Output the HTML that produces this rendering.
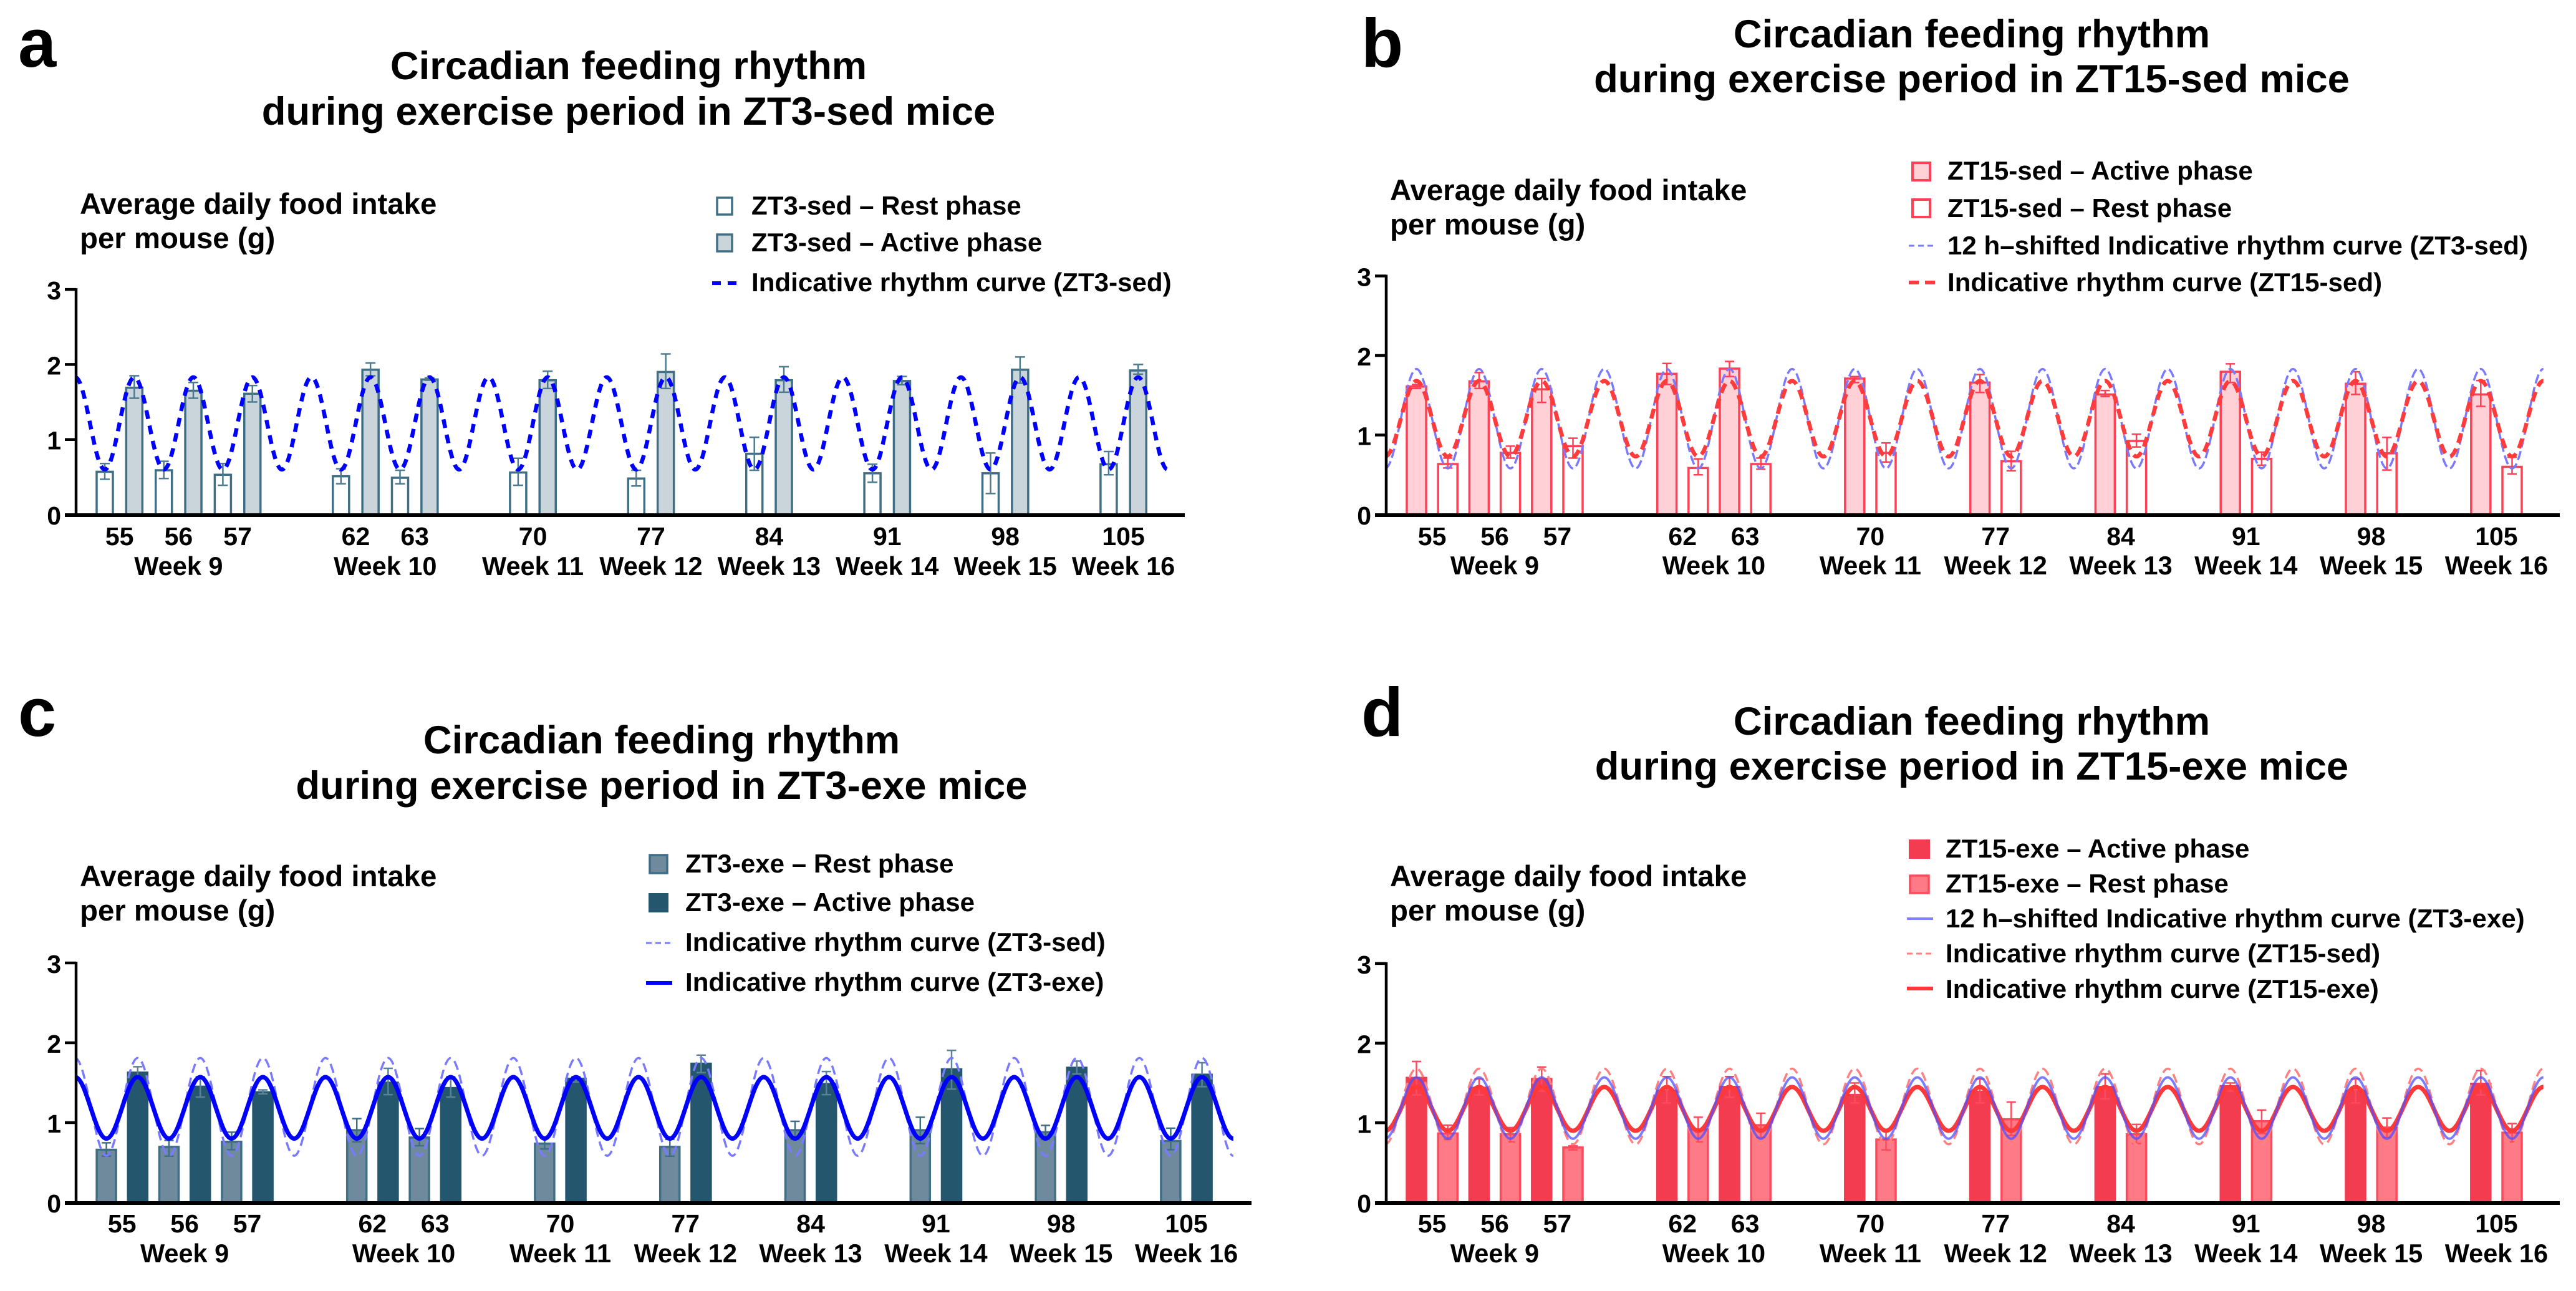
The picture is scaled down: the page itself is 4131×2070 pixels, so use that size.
<!DOCTYPE html>
<html lang="en">
<head>
<meta charset="utf-8">
<title>Circadian feeding rhythm</title>
<style>
html,body{margin:0;padding:0;background:#fff;width:4131px;height:2070px;overflow:hidden}
svg{display:block}
text{font-family:"Liberation Sans",Arial,sans-serif;font-weight:bold;fill:#000}
.letter{font-size:110px}
.title{font-size:63.4px;text-anchor:middle}
.ylab{font-size:47.4px}
.leg{font-size:42.1px}
</style>
</head>
<body>
<svg id="figure" xmlns="http://www.w3.org/2000/svg" width="4131" height="2070" viewBox="0 0 4131 2070">
<rect x="0" y="0" width="4131" height="2070" fill="#fff"/>

<g id="panel-a">
  <text class="letter" x="29" y="107">a</text>
  <g>
    <text class="title" x="1008" y="127">Circadian feeding rhythm</text>
    <text class="title" x="1008" y="200">during exercise period in ZT3-sed mice</text>
  </g>
  <g>
    <text class="ylab" x="128" y="343">Average daily food intake</text>
    <text class="ylab" x="128" y="398">per mouse (g)</text>
  </g>
  <g>
    <rect x="1150" y="317" width="24" height="27" fill="#fff" stroke="#3f6e85" stroke-width="3.5"/>
    <text class="leg" x="1205" y="344">ZT3-sed – Rest phase</text>
    <rect x="1150" y="376" width="24" height="27" fill="#c9d5db" stroke="#3f6e85" stroke-width="3.5"/>
    <text class="leg" x="1205" y="403">ZT3-sed – Active phase</text>
    <line x1="1142" x2="1182" y1="454" y2="454" stroke="#0000ff" stroke-width="6" stroke-dasharray="14 11"/>
    <text class="leg" x="1205" y="467">Indicative rhythm curve (ZT3-sed)</text>
  </g>
</g>

<g id="panel-b">
  <text class="letter" x="2183" y="107">b</text>
  <g>
    <text class="title" x="3162" y="76">Circadian feeding rhythm</text>
    <text class="title" x="3162" y="148">during exercise period in ZT15-sed mice</text>
  </g>
  <g>
    <text class="ylab" x="2229" y="321">Average daily food intake</text>
    <text class="ylab" x="2229" y="376">per mouse (g)</text>
  </g>
  <g>
    <rect x="3067" y="261" width="28" height="28" fill="#ffd0d5" stroke="#ff4055" stroke-width="4"/>
    <text class="leg" x="3123" y="288">ZT15-sed – Active phase</text>
    <rect x="3067" y="320" width="28" height="28" fill="#fff" stroke="#ff4055" stroke-width="4"/>
    <text class="leg" x="3123" y="348">ZT15-sed – Rest phase</text>
    <line x1="3061" x2="3104" y1="394" y2="394" stroke="#7a7aff" stroke-width="3" stroke-dasharray="9 6"/>
    <text class="leg" x="3123" y="408">12 h–shifted Indicative rhythm curve (ZT3-sed)</text>
    <line x1="3061" x2="3104" y1="453" y2="453" stroke="#ff3b3b" stroke-width="6" stroke-dasharray="16 10"/>
    <text class="leg" x="3123" y="467">Indicative rhythm curve (ZT15-sed)</text>
  </g>
</g>

<g id="panel-c">
  <text class="letter" x="29" y="1180">c</text>
  <g>
    <text class="title" x="1061" y="1208">Circadian feeding rhythm</text>
    <text class="title" x="1061" y="1281">during exercise period in ZT3-exe mice</text>
  </g>
  <g>
    <text class="ylab" x="128" y="1421">Average daily food intake</text>
    <text class="ylab" x="128" y="1476">per mouse (g)</text>
  </g>
  <g>
    <rect x="1042" y="1371" width="28" height="29" fill="#6e8a9c" stroke="#3f6e85" stroke-width="3.5"/>
    <text class="leg" x="1099" y="1399">ZT3-exe – Rest phase</text>
    <rect x="1040" y="1432" width="32" height="31" fill="#24566e"/>
    <text class="leg" x="1099" y="1461">ZT3-exe – Active phase</text>
    <line x1="1036" x2="1078" y1="1512" y2="1512" stroke="#7a7aff" stroke-width="3" stroke-dasharray="9 6"/>
    <text class="leg" x="1099" y="1525">Indicative rhythm curve (ZT3-sed)</text>
    <line x1="1036" x2="1078" y1="1576" y2="1576" stroke="#0000ff" stroke-width="6"/>
    <text class="leg" x="1099" y="1589">Indicative rhythm curve (ZT3-exe)</text>
  </g>
</g>

<g id="panel-d">
  <text class="letter" x="2183" y="1180">d</text>
  <g>
    <text class="title" x="3162" y="1178">Circadian feeding rhythm</text>
    <text class="title" x="3162" y="1250">during exercise period in ZT15-exe mice</text>
  </g>
  <g>
    <text class="ylab" x="2229" y="1421">Average daily food intake</text>
    <text class="ylab" x="2229" y="1476">per mouse (g)</text>
  </g>
  <g>
    <rect x="3061" y="1346" width="34" height="31" fill="#f43c50"/>
    <text class="leg" x="3120" y="1375">ZT15-exe – Active phase</text>
    <rect x="3063" y="1404" width="30" height="28" fill="#ff7a87" stroke="#ff4a5c" stroke-width="3.5"/>
    <text class="leg" x="3120" y="1431">ZT15-exe – Rest phase</text>
    <line x1="3058" x2="3100" y1="1473" y2="1473" stroke="#8080ff" stroke-width="4"/>
    <text class="leg" x="3120" y="1487">12 h–shifted Indicative rhythm curve (ZT3-exe)</text>
    <line x1="3058" x2="3100" y1="1529" y2="1529" stroke="#ff8080" stroke-width="3" stroke-dasharray="9 6"/>
    <text class="leg" x="3120" y="1543">Indicative rhythm curve (ZT15-sed)</text>
    <line x1="3058" x2="3100" y1="1585" y2="1585" stroke="#ff3838" stroke-width="6"/>
    <text class="leg" x="3120" y="1600">Indicative rhythm curve (ZT15-exe)</text>
  </g>
</g>
</svg>

<script>
// ---- shared categories and tick labels ----
const days = [55, 56, 57, 62, 63, 70, 77, 84, 91, 98, 105];
const weekLabels = ['Week 9', 'Week 10', 'Week 11', 'Week 12', 'Week 13', 'Week 14', 'Week 15', 'Week 16'];
const weekDays = [[55, 56, 57], [62, 63], [70], [77], [84], [91], [98], [105]];
const yTicks = [0, 1, 2, 3];

// ---- panel a (ZT3-sed) ----
const aRestMean = [0.57, 0.59, 0.53, 0.51, 0.49, 0.56, 0.48, 0.81, 0.55, 0.55, 0.67];
const aRestHigh = [0.68, 0.71, 0.68, 0.61, 0.59, 0.75, 0.59, 1.03, 0.67, 0.82, 0.84];
const aRestLow = [0.47, 0.48, 0.39, 0.41, 0.41, 0.39, 0.38, 0.59, 0.43, 0.28, 0.53];
const aActiveMean = [1.69, 1.65, 1.61, 1.93, 1.80, 1.79, 1.90, 1.79, 1.78, 1.93, 1.92];
const aActiveHigh = [1.85, 1.76, 1.72, 2.02, 1.82, 1.91, 2.14, 1.97, 1.84, 2.10, 2.00];
const aActiveLow = [1.55, 1.55, 1.50, 1.85, 1.79, 1.68, 1.68, 1.63, 1.73, 1.75, 1.87];
const aCurveSed = [1.83, 0.6, 1.83, 0.6, 1.83, 0.6, 1.83, 0.6, 1.83, 0.6, 1.83, 0.6, 1.83, 0.6, 1.83, 0.6, 1.83, 0.6, 1.83, 0.6, 1.83, 0.6, 1.83, 0.6, 1.83, 0.6, 1.83, 0.6, 1.83, 0.6, 1.83, 0.6, 1.83, 0.6, 1.83, 0.6, 1.83, 0.6];

// ---- panel b (ZT15-sed) ----
const bRestMean = [0.635, 0.775, 0.86, 0.585, 0.635, 0.775, 0.67, 0.925, 0.70, 0.77, 0.60];
const bRestHigh = [0.71, 0.86, 0.96, 0.70, 0.71, 0.90, 0.795, 1.01, 0.785, 0.97, 0.72];
const bRestLow = [0.585, 0.71, 0.71, 0.50, 0.57, 0.66, 0.55, 0.85, 0.62, 0.56, 0.51];
const bActiveMean = [1.61, 1.675, 1.575, 1.77, 1.835, 1.71, 1.66, 1.51, 1.795, 1.645, 1.51];
const bActiveHigh = [1.635, 1.785, 1.71, 1.90, 1.925, 1.735, 1.76, 1.56, 1.895, 1.795, 1.685];
const bActiveLow = [1.585, 1.585, 1.41, 1.635, 1.735, 1.66, 1.535, 1.485, 1.66, 1.51, 1.36];
const bCurveShifted = [0.58, 1.83, 0.58, 1.83, 0.58, 1.83, 0.58, 1.83, 0.58, 1.83, 0.58, 1.83, 0.58, 1.83, 0.58, 1.83, 0.58, 1.83, 0.58, 1.83, 0.58, 1.83, 0.58, 1.83, 0.58, 1.83, 0.58, 1.83, 0.58, 1.83, 0.58, 1.83, 0.58, 1.83, 0.58, 1.83, 0.58, 1.83];
const bCurveSed = [0.73, 1.68, 0.73, 1.68, 0.73, 1.68, 0.73, 1.68, 0.73, 1.68, 0.73, 1.68, 0.73, 1.68, 0.73, 1.68, 0.73, 1.68, 0.73, 1.68, 0.73, 1.68, 0.73, 1.68, 0.73, 1.68, 0.73, 1.68, 0.73, 1.68, 0.73, 1.68, 0.73, 1.68, 0.73, 1.68, 0.73, 1.68];

// ---- panel c (ZT3-exe) ----
const cRestMean = [0.66, 0.696, 0.76, 0.905, 0.813, 0.737, 0.696, 0.905, 0.905, 0.88, 0.77];
const cRestHigh = [0.747, 0.777, 0.88, 1.05, 0.925, 0.81, 0.79, 1.016, 1.067, 0.965, 0.93];
const cRestLow = [0.58, 0.58, 0.66, 0.76, 0.71, 0.67, 0.58, 0.79, 0.737, 0.79, 0.66];
const cActiveMean = [1.626, 1.45, 1.38, 1.50, 1.433, 1.55, 1.738, 1.484, 1.667, 1.687, 1.60];
const cActiveHigh = [1.70, 1.575, 1.41, 1.68, 1.575, 1.575, 1.845, 1.64, 1.905, 1.77, 1.75];
const cActiveLow = [1.55, 1.32, 1.36, 1.35, 1.32, 1.51, 1.626, 1.35, 1.42, 1.61, 1.45];
const cCurveSed = [1.81, 0.585, 1.81, 0.585, 1.81, 0.585, 1.81, 0.585, 1.81, 0.585, 1.81, 0.585, 1.81, 0.585, 1.81, 0.585, 1.81, 0.585, 1.81, 0.585, 1.81, 0.585, 1.81, 0.585, 1.81, 0.585, 1.81, 0.585, 1.81, 0.585, 1.81, 0.585, 1.81, 0.585, 1.81, 0.585, 1.81, 0.585];
const cCurveExe = [1.57, 0.8, 1.57, 0.8, 1.57, 0.8, 1.57, 0.8, 1.57, 0.8, 1.57, 0.8, 1.57, 0.8, 1.57, 0.8, 1.57, 0.8, 1.57, 0.8, 1.57, 0.8, 1.57, 0.8, 1.57, 0.8, 1.57, 0.8, 1.57, 0.8, 1.57, 0.8, 1.57, 0.8, 1.57, 0.8, 1.57, 0.8];

// ---- panel d (ZT15-exe) ----
const dRestMean = [0.866, 0.856, 0.69, 0.917, 0.97, 0.79, 1.044, 0.856, 1.02, 0.94, 0.876];
const dRestHigh = [0.97, 0.94, 0.71, 1.07, 1.12, 0.917, 1.26, 0.98, 1.16, 1.06, 0.99];
const dRestLow = [0.79, 0.76, 0.66, 0.76, 0.815, 0.66, 0.84, 0.74, 0.866, 0.815, 0.76];
const dActiveMean = [1.564, 1.44, 1.55, 1.40, 1.45, 1.35, 1.39, 1.45, 1.46, 1.40, 1.49];
const dActiveHigh = [1.77, 1.55, 1.70, 1.58, 1.58, 1.50, 1.55, 1.615, 1.50, 1.55, 1.655];
const dActiveLow = [1.35, 1.35, 1.40, 1.25, 1.32, 1.25, 1.25, 1.30, 1.40, 1.25, 1.35];
const dCurveShifted = [0.8, 1.57, 0.8, 1.57, 0.8, 1.57, 0.8, 1.57, 0.8, 1.57, 0.8, 1.57, 0.8, 1.57, 0.8, 1.57, 0.8, 1.57, 0.8, 1.57, 0.8, 1.57, 0.8, 1.57, 0.8, 1.57, 0.8, 1.57, 0.8, 1.57, 0.8, 1.57, 0.8, 1.57, 0.8, 1.57, 0.8, 1.57];
const dCurveSed = [0.73, 1.68, 0.73, 1.68, 0.73, 1.68, 0.73, 1.68, 0.73, 1.68, 0.73, 1.68, 0.73, 1.68, 0.73, 1.68, 0.73, 1.68, 0.73, 1.68, 0.73, 1.68, 0.73, 1.68, 0.73, 1.68, 0.73, 1.68, 0.73, 1.68, 0.73, 1.68, 0.73, 1.68, 0.73, 1.68, 0.73, 1.68];
const dCurveExe = [0.9, 1.45, 0.9, 1.45, 0.9, 1.45, 0.9, 1.45, 0.9, 1.45, 0.9, 1.45, 0.9, 1.45, 0.9, 1.45, 0.9, 1.45, 0.9, 1.45, 0.9, 1.45, 0.9, 1.45, 0.9, 1.45, 0.9, 1.45, 0.9, 1.45, 0.9, 1.45, 0.9, 1.45, 0.9, 1.45, 0.9, 1.45];

const SVG_NS = 'http://www.w3.org/2000/svg';

function mk(tag, attrs, parent, content) {
  const el = document.createElementNS(SVG_NS, tag);
  Object.keys(attrs).forEach(function (k) { el.setAttribute(k, attrs[k]); });
  if (content !== undefined) el.textContent = content;
  parent.appendChild(el);
  return el;
}

// category axis: consecutive days are one period apart, a jump leaves one empty period
function slotOfDay(day) {
  let slot = 0;
  for (let i = 1; i < days.length && days[i - 1] < day; i++) {
    slot += days[i] - days[i - 1] === 1 ? 1 : 2;
  }
  return slot;
}
function xAxis(panel, halfStep) { return panel.x0 + halfStep * panel.step; }
function yAxis(panel, value) { return panel.y0 - value * panel.unit; }

function drawBar(g, panel, halfStep, mean, high, low, style, kind, day) {
  const cx = xAxis(panel, halfStep);
  const top = yAxis(panel, mean);
  const bar = mk('rect', {
    x: cx - panel.barWidth / 2, y: top, width: panel.barWidth, height: panel.y0 - top,
    fill: style.fill, stroke: style.stroke, 'stroke-width': style.strokeWidth
  }, g);
  
  
  const errGroup = mk('g', { stroke: style.error, 'stroke-width': panel.errWidth, fill: 'none' }, g);
  
  
  mk('line', { x1: cx, x2: cx, y1: yAxis(panel, high), y2: yAxis(panel, low) }, errGroup);
  mk('line', { x1: cx - panel.cap, x2: cx + panel.cap, y1: yAxis(panel, high), y2: yAxis(panel, high) }, errGroup);
  mk('line', { x1: cx - panel.cap, x2: cx + panel.cap, y1: yAxis(panel, low), y2: yAxis(panel, low) }, errGroup);
}

function curvePath(panel, values) {
  // the curve passes through its read peaks and troughs, one half period apart
  let d = 'M' + xAxis(panel, -1) + ' ' + yAxis(panel, values[0]);
  for (let i = 1; i < values.length; i++) {
    const xa = xAxis(panel, i - 2), xb = xAxis(panel, i - 1);
    const ya = yAxis(panel, values[i - 1]), yb = yAxis(panel, values[i]);
    const k = (xb - xa) * 0.3642;
    d += 'C' + (xa + k) + ' ' + ya + ' ' + (xb - k) + ' ' + yb + ' ' + xb + ' ' + yb;
  }
  return d;
}

function drawPanel(panel) {
  const root = document.getElementById(panel.id);
  const plot = mk('g', {}, root);
  
  

  days.forEach(function (day, i) {
    const slot = slotOfDay(day);
    drawBar(plot, panel, 2 * slot + panel.restOffset, panel.restMean[i], panel.restHigh[i], panel.restLow[i], panel.restStyle, 'rest', day);
    drawBar(plot, panel, 2 * slot + panel.activeOffset, panel.activeMean[i], panel.activeHigh[i], panel.activeLow[i], panel.activeStyle, 'active', day);
  });

  panel.curves.forEach(function (curve) {
    const attrs = {
      d: curvePath(panel, curve.values), fill: 'none', stroke: curve.color,
      'stroke-width': curve.width, 'stroke-opacity': curve.opacity || 1
    };
    if (curve.dash) attrs['stroke-dasharray'] = curve.dash;
    const line = mk('path', attrs, plot);
    
    
  });

  const axisY = mk('g', { stroke: '#000', 'stroke-width': 4.5 }, root);
  
  
  mk('line', { x1: panel.axisX, x2: panel.axisX, y1: yAxis(panel, 3) - 2, y2: panel.y0 }, axisY);
  yTicks.forEach(function (tick) {
    const y = yAxis(panel, tick);
    if (tick > 0) {
      const tickMark = mk('line', { x1: panel.axisX - 18, x2: panel.axisX, y1: y, y2: y }, axisY);
      
      
    }
    const label = mk('text', { x: panel.axisX - 24, y: y + 16, 'text-anchor': 'end', 'font-size': 41, stroke: 'none' }, root, String(tick));
    
    
  });

  const axisX = mk('line', {
    x1: panel.axisX - 18, x2: panel.axisEnd, y1: panel.y0 + 1, y2: panel.y0 + 1, stroke: '#000', 'stroke-width': 6
  }, root);
  
  

  days.forEach(function (day) {
    const label = mk('text', {
      x: xAxis(panel, 2 * slotOfDay(day) + 0.5), y: panel.dayBase, 'text-anchor': 'middle', 'font-size': 41
    }, root, String(day));
    
    
  });
  weekLabels.forEach(function (week, i) {
    const group = weekDays[i];
    const mid = (slotOfDay(group[0]) + slotOfDay(group[group.length - 1])) / 2;
    const label = mk('text', {
      x: xAxis(panel, 2 * mid + 0.5), y: panel.weekBase, 'text-anchor': 'middle', 'font-size': 41.5
    }, root, week);
    
    
  });
}

drawPanel({
  id: 'panel-a', x0: 168, step: 47.35, y0: 825, unit: 120.3, axisX: 122, axisEnd: 1900,
  barWidth: 26, errWidth: 2.5, cap: 8, restOffset: 0, activeOffset: 1, dayBase: 874, weekBase: 922,
  restMean: aRestMean, restHigh: aRestHigh, restLow: aRestLow,
  activeMean: aActiveMean, activeHigh: aActiveHigh, activeLow: aActiveLow,
  restStyle: { fill: '#fff', stroke: '#3f6e85', strokeWidth: 3.5, error: '#4f7b90' },
  activeStyle: { fill: '#c9d5db', stroke: '#3f6e85', strokeWidth: 3.5, error: '#4f7b90' },
  curves: [{ name: 'rhythm-curve-zt3-sed', values: aCurveSed, color: '#0000ff', width: 6.5, dash: '14 11' }]
});

drawPanel({
  id: 'panel-b', x0: 2271.5, step: 50.2, y0: 825, unit: 127.5, axisX: 2223, axisEnd: 4105,
  barWidth: 31, errWidth: 2.5, cap: 7.5, restOffset: 1, activeOffset: 0, dayBase: 874, weekBase: 921,
  restMean: bRestMean, restHigh: bRestHigh, restLow: bRestLow,
  activeMean: bActiveMean, activeHigh: bActiveHigh, activeLow: bActiveLow,
  restStyle: { fill: '#fff', stroke: '#ff4055', strokeWidth: 3.5, error: '#ff4055' },
  activeStyle: { fill: '#ffd0d5', stroke: '#ff4055', strokeWidth: 3.5, error: '#ff4055' },
  curves: [
    { name: 'shifted-rhythm-curve-zt3-sed', values: bCurveShifted, color: '#7a7aff', width: 3.5, dash: '15 6' },
    { name: 'rhythm-curve-zt15-sed', values: bCurveSed, color: '#ff3b3b', width: 6.5, dash: '16 10' }
  ]
});

drawPanel({
  id: 'panel-c', x0: 170.6, step: 50.2, y0: 1928, unit: 128, axisX: 122, axisEnd: 2007,
  barWidth: 31, errWidth: 2.5, cap: 7.5, restOffset: 0, activeOffset: 1, dayBase: 1976, weekBase: 2024,
  restMean: cRestMean, restHigh: cRestHigh, restLow: cRestLow,
  activeMean: cActiveMean, activeHigh: cActiveHigh, activeLow: cActiveLow,
  restStyle: { fill: '#6e8a9c', stroke: '#3f6e85', strokeWidth: 3.5, error: '#3f6e85' },
  activeStyle: { fill: '#24566e', stroke: '#24566e', strokeWidth: 3.5, error: '#5a8296' },
  curves: [
    { name: 'rhythm-curve-zt3-sed', values: cCurveSed, color: '#7a7aff', width: 3.5, dash: '15 8' },
    { name: 'rhythm-curve-zt3-exe', values: cCurveExe, color: '#0000ff', width: 7 }
  ]
});

drawPanel({
  id: 'panel-d', x0: 2271.5, step: 50.2, y0: 1928, unit: 127.7, axisX: 2223, axisEnd: 4105,
  barWidth: 31, errWidth: 2.5, cap: 7.5, restOffset: 1, activeOffset: 0, dayBase: 1976, weekBase: 2024,
  restMean: dRestMean, restHigh: dRestHigh, restLow: dRestLow,
  activeMean: dActiveMean, activeHigh: dActiveHigh, activeLow: dActiveLow,
  restStyle: { fill: '#ff7a87', stroke: '#ff4a5c', strokeWidth: 3.5, error: '#ff4a5c' },
  activeStyle: { fill: '#f43c50', stroke: '#f43c50', strokeWidth: 3.5, error: '#ff4a5c' },
  curves: [
    { name: 'rhythm-curve-zt15-sed', values: dCurveSed, color: '#ff8080', width: 3.5, dash: '15 8' },
    { name: 'rhythm-curve-zt15-exe', values: dCurveExe, color: '#ff3838', width: 7 },
    { name: 'shifted-rhythm-curve-zt3-exe', values: dCurveShifted, color: '#5050ff', width: 4, opacity: 0.75 }
  ]
});
</script>
</body>
</html>
